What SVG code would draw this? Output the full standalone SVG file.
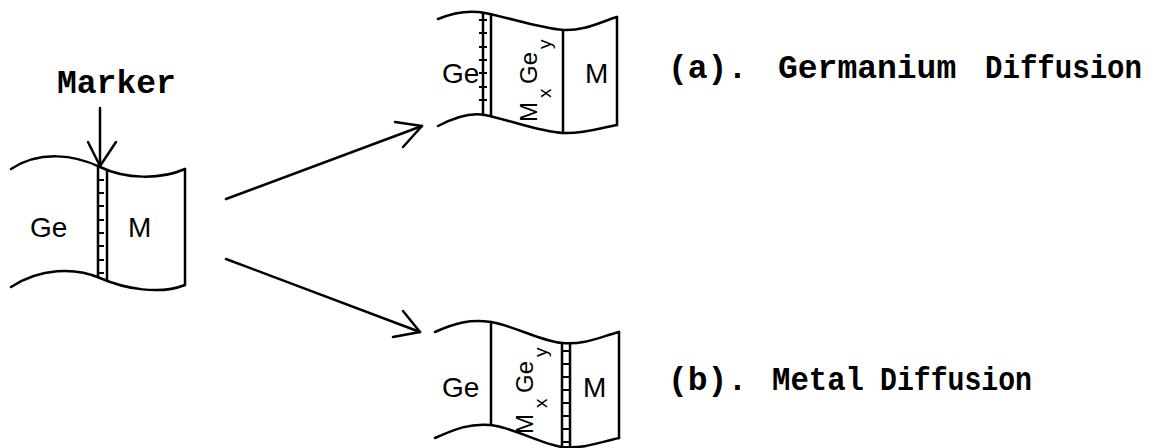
<svg xmlns="http://www.w3.org/2000/svg" width="1176" height="448" viewBox="0 0 1176 448">
<style>
.ln{fill:none;stroke:#000;stroke-width:2.5;stroke-linecap:round;stroke-linejoin:round}
.tk{fill:none;stroke:#000;stroke-width:2}
.sans{font-family:"Liberation Sans",Arial,sans-serif;fill:#000}
.lbl{font-family:"Liberation Mono","Courier New",monospace;font-weight:bold;font-size:33px;fill:#000}
.rot{font-family:"Liberation Sans",Arial,sans-serif;font-size:24px;fill:#000}
.sub{font-size:19px}
</style>
<rect width="1176" height="448" fill="#fff"/>

<g id="initial">
  <path class="ln" d="M11,169 C40,150 75,155 100,167 S160,180 185,169"/>
  <path class="ln" d="M11,287 C40,268 75,267 100,278 S160,295 185,285"/>
  <line class="ln" x1="185" y1="169" x2="185" y2="285"/>
  <line class="ln" x1="98" y1="166" x2="98" y2="277"/>
  <line class="ln" x1="107" y1="171" x2="107" y2="281"/>
  <path class="tk" d="M98,180h6M98,193h6M98,206h6M98,220h6M98,233h6M98,246h6M98,260h6M98,273h6"/>
  <text class="sans" x="30" y="237" font-size="28">Ge</text>
  <text class="sans" x="128" y="237" font-size="28">M</text>
</g>

<g id="marker-label">
  <text class="lbl" x="57" y="93">Marker</text>
  <line class="ln" x1="100" y1="108" x2="100" y2="165"/>
  <polyline class="ln" points="88,142 100,166 116,142"/>
</g>

<g id="ge-diffusion">
  <path class="ln" d="M438,19 C455,12 470,10 485,13 C510,18 540,28 563,30 C585,31 600,22 617,17"/>
  <path class="ln" d="M438,126 C455,117 470,112 485,115 C510,120 540,132 563,133 C585,134 600,128 617,125"/>
  <line class="ln" x1="617" y1="17" x2="617" y2="125"/>
  <line class="ln" x1="563" y1="30" x2="563" y2="133"/>
  <line class="ln" x1="483" y1="13" x2="483" y2="115"/>
  <line class="ln" x1="491" y1="14" x2="491" y2="116"/>
  <path class="tk" d="M479,20h8M479,33h8M479,47h8M479,60h8M479,73h8M479,87h8M479,100h8"/>
  <text class="sans" x="442" y="83" font-size="28">Ge</text>
  <text class="sans" x="585" y="83" font-size="28">M</text>
  <g transform="translate(537,122) rotate(-90)">
    <text class="rot" x="0" y="0">M</text>
    <text class="rot sub" x="24" y="14">x</text>
    <text class="rot" x="38" y="0">Ge</text>
    <text class="rot sub" x="73" y="14">y</text>
  </g>
  <text class="lbl" y="78"><tspan x="668">(a).</tspan><tspan x="778">Germanium</tspan><tspan x="985" textLength="157" lengthAdjust="spacingAndGlyphs">Diffusion</tspan></text>
</g>

<g id="metal-diffusion">
  <path class="ln" d="M435,332 C455,323 470,319 491,322 C515,326 540,341 562,343 C585,345 600,337 619,332"/>
  <path class="ln" d="M435,438 C455,429 470,423 491,425 C515,428 540,444 562,447 C585,449 600,442 619,438"/>
  <line class="ln" x1="619" y1="332" x2="619" y2="438"/>
  <line class="ln" x1="491" y1="322" x2="491" y2="425"/>
  <line class="ln" x1="562" y1="343" x2="562" y2="447"/>
  <line class="ln" x1="570" y1="344" x2="570" y2="448"/>
  <path class="tk" d="M562,351h8M562,364h8M562,377h8M562,390h8M562,403h8M562,416h8M562,429h8M562,442h8"/>
  <text class="sans" x="442" y="397" font-size="28">Ge</text>
  <text class="sans" x="583" y="397" font-size="28">M</text>
  <g transform="translate(533,434) rotate(-90)">
    <text class="rot" x="0" y="0" font-size="25">M</text>
    <text class="rot sub" x="26" y="14">x</text>
    <text class="rot" x="41" y="0" font-size="25">Ge</text>
    <text class="rot sub" x="77" y="14">y</text>
  </g>
  <text class="lbl" y="390"><tspan x="668">(b).</tspan><tspan x="772" textLength="92" lengthAdjust="spacingAndGlyphs">Metal</tspan><tspan x="880" textLength="152" lengthAdjust="spacingAndGlyphs">Diffusion</tspan></text>
</g>

<g id="connectors">
  <line class="ln" x1="226" y1="199" x2="422" y2="126"/>
  <polyline class="ln" points="395,122 422,126 403,147"/>
  <line class="ln" x1="226" y1="259" x2="420" y2="332"/>
  <polyline class="ln" points="393,337 420,332 403,311"/>
</g>
</svg>
